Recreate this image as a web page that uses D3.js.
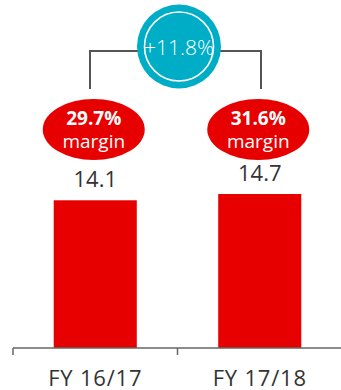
<!DOCTYPE html>
<html>
<head>
<meta charset="utf-8">
<script src="https://cdn.jsdelivr.net/npm/d3@7"></script>
<style>
  html, body { margin: 0; padding: 0; background: #fff; }
  svg { display: block; }
  text { font-family: "Open Sans", "Noto Sans", sans-serif; }
</style>
</head>
<body>
<svg id="chart" width="341" height="390"></svg>
<script>
// Revenue-style figures per fiscal year, with margin and growth callouts
const categories = ["FY 16/17", "FY 17/18"];
const values = [14.1, 14.7];
const margins = ["29.7%", "31.6%"];
const growthLabel = "+11.8%";

const W = 341, H = 390;
const svg = d3.select("#chart");

const RED = "#e60000";
const TEAL = "#00adc6";
const GREY = "#555555";
const TEXT = "#333333";

const x = d3.scaleBand().domain(categories).range([13, 342]).padding(0);
const barW = x.bandwidth() * 0.505;
const y = d3.scaleLinear().domain([0, 14.7]).range([348, 194]);
const cx = c => x(c) + x.bandwidth() / 2;

// bars
svg.append("g").selectAll("rect").data(categories).join("rect")
  .attr("x", d => cx(d) - barW / 2)
  .attr("y", (d, i) => y(values[i]))
  .attr("width", barW)
  .attr("height", (d, i) => y(0) - y(values[i]))
  .attr("fill", RED);

// value labels above bars
svg.append("g").selectAll("text").data(categories).join("text")
  .attr("x", d => cx(d))
  .attr("y", (d, i) => y(values[i]) - 13)
  .attr("text-anchor", "middle")
  .attr("font-size", 22)
  .attr("fill", TEXT)
  .text((d, i) => values[i].toFixed(1));

// x axis: baseline with ticks at band edges
const axis = svg.append("g").attr("stroke", "#666").attr("stroke-width", 1.5).attr("fill", "none");
axis.append("path").attr("d", `M${x.range()[0]},${y(0)}H${W}`);
const edges = categories.map(c => x(c)).concat([x(categories[1]) + x.bandwidth()]);
axis.selectAll("line").data(edges).join("line")
  .attr("x1", d => d).attr("x2", d => d)
  .attr("y1", y(0)).attr("y2", y(0) + 7);

svg.append("g").selectAll("text").data(categories).join("text")
  .attr("x", d => cx(d))
  .attr("y", 386)
  .attr("text-anchor", "middle")
  .attr("font-size", 22)
  .attr("letter-spacing", 0.8)
  .attr("fill", TEXT)
  .text(d => d);

// margin ellipses
const ellY = 129.5;
const ell = svg.append("g").selectAll("g").data(categories).join("g")
  .attr("transform", d => `translate(${cx(d) - 1.5},${ellY})`);
ell.append("ellipse").attr("rx", 51).attr("ry", 30.5).attr("fill", RED);
ell.append("text")
  .attr("y", -5).attr("text-anchor", "middle")
  .attr("font-size", 19).attr("font-weight", 700).attr("fill", "#fff")
  .text((d, i) => margins[i]);
ell.append("text")
  .attr("y", 18).attr("text-anchor", "middle")
  .attr("font-size", 19).attr("fill", "#fff")
  .text("margin");

// growth bracket connecting the two years
const bx1 = 90, bx2 = 261, bTop = 51, bBottom = 89;
svg.append("path")
  .attr("d", `M${bx1},${bBottom}V${bTop}H${bx2}V${bBottom}`)
  .attr("fill", "none").attr("stroke", GREY).attr("stroke-width", 2);

// growth badge
const badge = svg.append("g").attr("transform", "translate(179,46.5)");
badge.append("circle").attr("r", 42).attr("fill", TEAL);
badge.append("circle").attr("r", 34.5).attr("fill", "none").attr("stroke", "#fff").attr("stroke-width", 1.6);
badge.append("text")
  .attr("y", 8).attr("text-anchor", "middle")
  .attr("font-size", 21).attr("font-weight", 300).attr("fill", "#fff")
  .text(growthLabel);
</script>
</body>
</html>
